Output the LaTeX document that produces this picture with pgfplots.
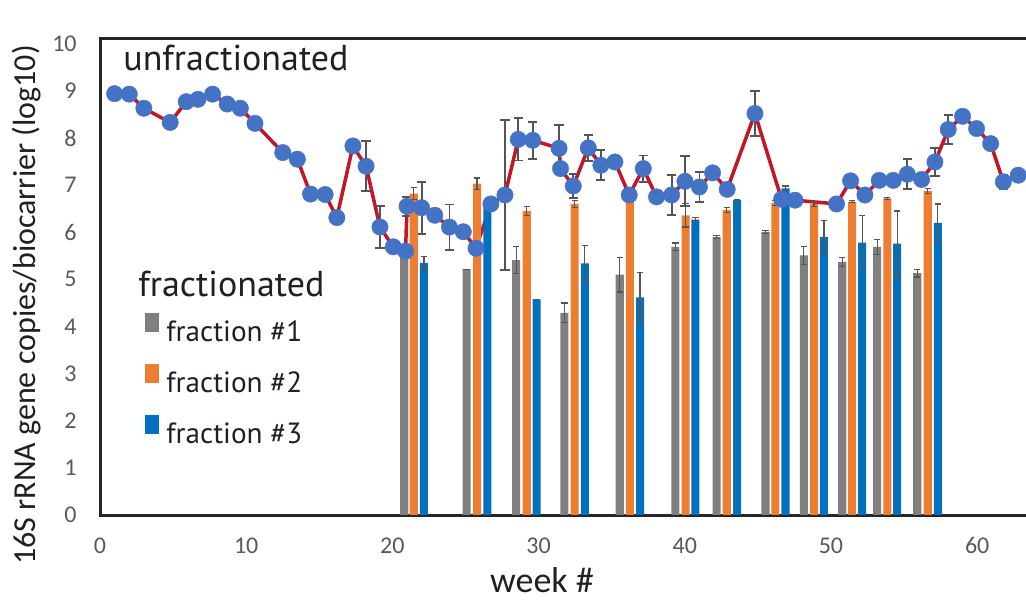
\documentclass[border=0pt]{standalone}
\usepackage{fontspec}
\setmainfont{Carlito}
\newfontfamily\ptsans{PT Sans}
\usepackage{pgfplots}
\usepackage{pgfplotstable}
\pgfplotsset{compat=1.18}
\definecolor{fgray}{RGB}{127,127,127}
\definecolor{forange}{RGB}{237,125,49}
\definecolor{fblue}{RGB}{0,112,192}
\definecolor{dotblue}{RGB}{68,114,196}
\definecolor{linered}{RGB}{196,20,40}
\definecolor{errgray}{RGB}{85,85,85}
\definecolor{ticklbl}{RGB}{89,89,89}
\definecolor{txt}{RGB}{35,31,32}

\pgfplotstableread{
x y
1.0 8.94
2.0 8.93
3.0 8.63
4.8 8.33
5.9 8.77
6.7 8.82
7.7 8.93
8.7 8.72
9.6 8.63
10.6 8.31
12.5 7.69
13.5 7.55
14.4 6.81
15.4 6.80
16.2 6.31
17.3 7.83
18.2 7.40
19.15 6.11
20.06 5.69
20.9 5.60
21.0 6.55
22.0 6.52
22.9 6.36
23.9 6.11
24.85 6.01
25.72 5.66
26.74 6.60
27.70 6.79
28.61 7.97
29.6 7.95
31.4 7.78
31.5 7.35
32.37 6.98
33.4 7.79
34.26 7.42
35.22 7.49
36.2 6.79
37.16 7.35
38.07 6.75
39.1 6.79
40.01 7.08
41.0 6.96
41.9 7.26
42.9 6.91
44.8 8.52
46.62 6.70
47.54 6.68
50.38 6.60
51.34 7.09
52.32 6.79
53.3 7.10
54.26 7.10
55.22 7.23
56.2 7.12
57.11 7.49
58.02 8.18
59.0 8.46
59.96 8.20
60.92 7.88
61.79 7.07
62.81 7.21
}\lineData

\pgfplotstableread{
x y e
18.2 7.40 0.53
19.15 6.11 0.44
21.0 6.55 0.2
22.0 6.52 0.55
23.9 6.11 0.48
27.70 6.79 1.59
28.61 7.97 0.45
29.6 7.95 0.39
31.4 7.78 0.5
31.5 7.35 0.1
32.37 6.98 0.25
33.4 7.79 0.28
34.26 7.42 0.32
37.16 7.35 0.28
39.1 6.79 0.42
40.01 7.08 0.53
41.0 6.96 0.32
44.8 8.52 0.48
46.62 6.70 0.15
51.34 7.09 0.1
53.3 7.10 0.1
55.22 7.23 0.32
56.2 7.12 0.1
57.11 7.49 0.3
58.02 8.18 0.3
59.96 8.20 0.1
61.79 7.07 0.15
62.81 7.21 0.08
}\lineErr

\pgfplotstableread{
x y e
20.81 5.55 0
25.08 5.21 0
28.47 5.41 0.28
31.77 4.29 0.21
35.55 5.10 0.37
39.36 5.69 0.08
42.18 5.90 0.03
45.52 6.01 0.03
48.14 5.51 0.19
50.77 5.37 0.09
53.16 5.69 0.16
55.90 5.13 0.08
}\fracA

\pgfplotstableread{
x y e
21.46 6.82 0.13
25.79 7.03 0.12
29.19 6.45 0.1
32.47 6.60 0.07
36.25 6.68 0.05
40.05 6.36 0.25
42.87 6.47 0.05
46.20 6.62 0.05
48.84 6.60 0.05
51.45 6.65 0.02
53.85 6.72 0.02
56.62 6.88 0.05
}\fracB

\pgfplotstableread{
x y e
22.16 5.35 0.13
26.50 6.60 0
29.87 4.57 0
33.16 5.34 0.38
36.94 4.62 0.52
40.73 6.27 0.05
43.58 6.68 0.02
46.89 6.93 0.05
49.52 5.90 0.35
52.13 5.78 0.57
54.53 5.76 0.69
57.31 6.20 0.4
}\fracC

\begin{document}
\begin{tikzpicture}
\path[use as bounding box] (0,0) rectangle (513bp,300bp);
\begin{axis}[
  at={(50bp,42.5bp)}, anchor=south west,
  scale only axis, width=464.9bp, height=238bp,
  xmin=0, xmax=63.6, ymin=0, ymax=10.1,
  xtick={0,10,...,60}, ytick={0,1,...,10},
  major tick length=0pt,
  axis line style={line width=1.5bp, color=black!85},
  ticklabel style={font=\fontsize{12bp}{14bp}\selectfont, color=ticklbl},
  /pgf/number format/assume math mode=true,
  xticklabel style={anchor=base, yshift=-19bp},
  yticklabel style={anchor=east, inner sep=0pt, xshift=-11.5bp},
  legend style={at={(0.0484,0.425)}, anchor=north west, draw=none, fill=none,
    inner sep=0pt, row sep=11.5bp, column sep=3.5bp,
    font=\ptsans\fontsize{14.6bp}{18bp}\selectfont, text=txt,
    nodes={inner sep=0pt, text height=11bp, text depth=0pt}},
  legend cell align=left,
  legend image code/.code={\fill[#1] (0bp,-1bp) rectangle (7bp,8.5bp);},
]
\addplot[color=linered, line width=1.75bp, mark=*, mark size=4.1bp,
  mark options={fill=dotblue, draw=dotblue, line width=0.2bp}, forget plot]
  table[x=x, y=y] {\lineData};
\addplot[only marks, mark=*, mark size=0.01bp, color=errgray, forget plot,
  error bars/.cd, y dir=both, y explicit, error mark=|,
  error bar style={draw=errgray, line width=0.9bp},
  error mark options={draw=errgray, mark size=2.3bp, line width=0.9bp}]
  table[x=x, y=y, y error=e] {\lineErr};
\addplot[ybar, bar width=0.55, bar shift=0pt, fill=fgray, draw=none,
  error bars/.cd, y dir=both, y explicit, error mark=|,
  error bar style={draw=errgray, line width=0.6bp},
  error mark options={draw=errgray, mark size=1.6bp, line width=0.6bp}]
  table[x=x, y=y, y error=e] {\fracA};
\addlegendentry{fraction \#1}
\addplot[ybar, bar width=0.55, bar shift=0pt, fill=forange, draw=none,
  error bars/.cd, y dir=both, y explicit, error mark=|,
  error bar style={draw=errgray, line width=0.6bp},
  error mark options={draw=errgray, mark size=1.6bp, line width=0.6bp}]
  table[x=x, y=y, y error=e] {\fracB};
\addlegendentry{fraction \#2}
\addplot[ybar, bar width=0.55, bar shift=0pt, fill=fblue, draw=none,
  error bars/.cd, y dir=both, y explicit, error mark=|,
  error bar style={draw=errgray, line width=0.6bp},
  error mark options={draw=errgray, mark size=1.6bp, line width=0.6bp}]
  table[x=x, y=y, y error=e] {\fracC};
\addlegendentry{fraction \#3}
\end{axis}
\node[rotate=90, font=\fontsize{16bp}{19bp}\selectfont, text=txt] at (13.5bp,147.5bp) {16S rRNA gene copies/biocarrier (log10)};
\node[anchor=base, font=\fontsize{18bp}{21bp}\selectfont, text=txt] at (271bp,4bp) {week \#};
\node[anchor=base west, inner sep=0pt, font=\ptsans\fontsize{18bp}{21bp}\selectfont, text=txt] at (61.5bp,264.5bp) {unfractionated};
\node[anchor=base west, inner sep=0pt, font=\ptsans\fontsize{18bp}{21bp}\selectfont, text=txt] at (69bp,151.5bp) {fractionated};
\end{tikzpicture}
\end{document}
